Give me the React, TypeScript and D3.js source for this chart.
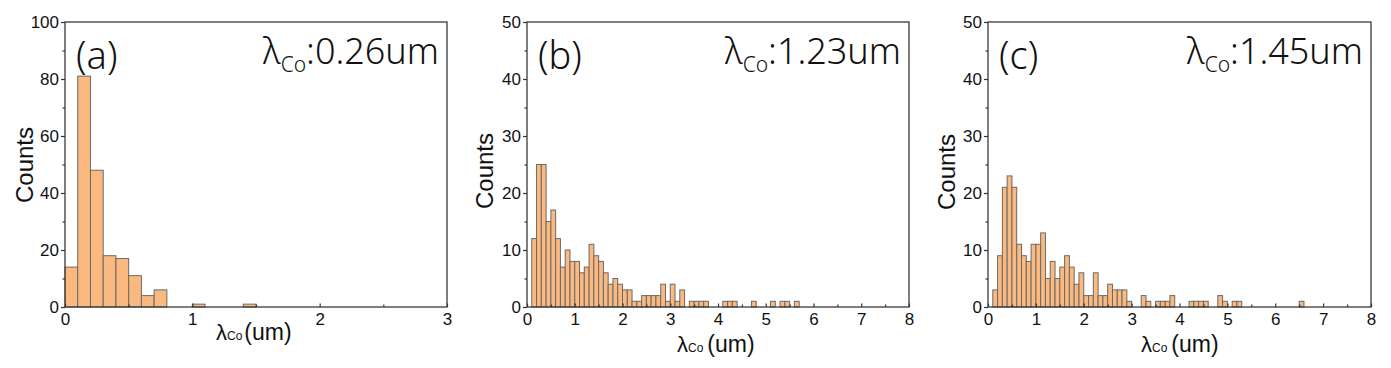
import React, { useEffect, useRef } from "react";
import * as d3 from "d3";

// histogram counts, bin width 0.1 um, first bin starts at 0
const binWidth = 0.1;
const countsA = [14, 81, 48, 18, 17, 11, 4, 6, 0, 0, 1, 0, 0, 0, 1];
const countsB = [
  0, 12, 25, 25, 15, 17, 12, 7, 10, 8, 8, 6, 7, 11, 9, 8, 6, 4, 5, 4, 3, 3, 1, 1,
  2, 2, 2, 2, 4, 1, 4, 1, 3, 0, 1, 1, 1, 1, 0, 0, 0, 1, 1, 1, 0, 0, 0, 1, 0, 0, 0,
  1, 0, 1, 1, 0, 1,
];
const countsC = [
  0, 3, 9, 21, 23, 21, 11, 9, 8, 11, 11, 13, 5, 8, 5, 7, 9, 7, 4, 6, 2, 2, 6, 2, 2,
  4, 3, 3, 3, 1, 0, 0, 2, 1, 0, 1, 1, 1, 2, 0, 0, 0, 1, 1, 1, 1, 0, 0, 2, 1, 0, 1,
  1, 0, 0, 0, 0, 0, 0, 0, 0, 0, 0, 0, 0, 1,
];
const panelTags = ["(a)", "(b)", "(c)"];
const lambdaValues = ["0.26", "1.23", "1.45"];
const xMaxes = [3, 8, 8];
const yMaxes = [100, 50, 50];
const yMajorSteps = [20, 10, 10];

// layout of the three frames
const frames = [
  { left: 65, right: 447, yLabelX: 33, yLabelY: 165, xLabelX: 216, xLabelY: 340 },
  { left: 527, right: 909, yLabelX: 493, yLabelY: 171, xLabelX: 677, xLabelY: 352 },
  { left: 988, right: 1371, yLabelX: 955, yLabelY: 172, xLabelX: 1141, xLabelY: 352 },
];
const top = 22;
const bottom = 307;
const tagFont = "'Noto Sans', 'Open Sans', sans-serif";

const App = () => {
  const svgRef = useRef<SVGSVGElement>(null);

  useEffect(() => {
    const svg = d3.select(svgRef.current);
    svg.selectAll("*").remove();
    const allCounts = [countsA, countsB, countsC];

    allCounts.forEach((counts, k) => {
      const f = frames[k];
      const xMax = xMaxes[k];
      const yMax = yMaxes[k];
      const step = yMajorSteps[k];

      const x = d3.scaleLinear().domain([0, xMax]).range([f.left, f.right]);
      const y = d3.scaleLinear().domain([0, yMax]).range([bottom, top]);
      const g = svg.append("g");

      // bars
      const bins = counts
        .map((c, i) => ({ x0: i * binWidth, x1: (i + 1) * binWidth, c }))
        .filter((d) => d.c > 0);
      g.selectAll("rect.bar")
        .data(bins)
        .enter()
        .append("rect")
        .attr("class", "bar")
        .attr("x", (d) => x(d.x0))
        .attr("y", (d) => y(d.c))
        .attr("width", (d) => x(d.x1) - x(d.x0))
        .attr("height", (d) => y(0) - y(d.c))
        .attr("fill", "#FBB97F")
        .attr("stroke", "#6a6a6a")
        .attr("stroke-width", 1);

      // y axis, major + minor
      const yMajor = d3.range(0, yMax + 0.001, step);
      const yMinor = d3.range(step / 2, yMax, step);
      const yAx = g
        .append("g")
        .attr("transform", `translate(${f.left},0)`)
        .call(d3.axisLeft(y).tickValues(yMajor).tickSize(4).tickPadding(2).tickFormat(d3.format("d")));
      g.append("g")
        .attr("transform", `translate(${f.left},0)`)
        .call(d3.axisLeft(y).tickValues(yMinor).tickSize(2.5).tickFormat(() => ""));

      // x axis, ticks pointing inward
      const xMajor = d3.range(0, xMax + 0.001, 1);
      const xMinor = d3.range(0.5, xMax, 1);
      const xAx = g
        .append("g")
        .attr("transform", `translate(0,${bottom})`)
        .call(d3.axisBottom(x).tickValues(xMajor).tickSize(-3.5).tickPadding(6).tickFormat(d3.format("d")));
      g.append("g")
        .attr("transform", `translate(0,${bottom})`)
        .call(d3.axisBottom(x).tickValues(xMinor).tickSize(-2.5).tickFormat(() => ""));

      g.selectAll(".domain").remove();
      g.selectAll(".tick line").attr("stroke", "#333").attr("stroke-width", 1.2);
      [yAx, xAx].forEach((a) =>
        a
          .selectAll("text")
          .attr("font-family", "Liberation Sans, Arial, sans-serif")
          .attr("font-size", 17)
          .attr("fill", "#111")
      );

      // frame
      g.append("rect")
        .attr("x", f.left)
        .attr("y", top)
        .attr("width", f.right - f.left)
        .attr("height", bottom - top)
        .attr("fill", "none")
        .attr("stroke", "#3a3a3a")
        .attr("stroke-width", 1.3);

      // panel tag
      g.append("text")
        .attr("x", f.left + 11)
        .attr("y", 69)
        .attr("font-family", tagFont)
        .attr("font-weight", 300)
        .attr("font-size", 38)
        .attr("fill", "#111")
        .text(panelTags[k]);

      // mean value label
      const t = g
        .append("text")
        .attr("x", f.right - 8)
        .attr("y", 64)
        .attr("text-anchor", "end")
        .attr("font-family", tagFont)
        .attr("font-weight", 300)
        .attr("font-size", 36)
        .attr("fill", "#111");
      t.append("tspan").text("λ");
      t.append("tspan").attr("font-size", 21).attr("dy", 8).text("Co");
      t.append("tspan").attr("dy", -8).text(`:${lambdaValues[k]}um`);

      // y label
      g.append("text")
        .attr("transform", `translate(${f.yLabelX},${f.yLabelY}) rotate(-90)`)
        .attr("text-anchor", "middle")
        .attr("font-family", "Liberation Sans, Arial, sans-serif")
        .attr("font-size", 24)
        .attr("fill", "#111")
        .text("Counts");

      // x label
      const xl = g
        .append("text")
        .attr("x", f.xLabelX)
        .attr("y", f.xLabelY)
        .attr("font-family", "Liberation Sans, Arial, sans-serif")
        .attr("fill", "#111");
      xl.append("tspan").attr("font-size", 22).text("λ");
      xl.append("tspan").attr("font-size", 12).text("Co");
      xl.append("tspan").attr("font-size", 23).attr("dx", k === 0 ? 2 : 4).text("(um)");
    });

    return () => {
      svg.selectAll("*").remove();
    };
  }, []);

  return (
    <div style={{ position: "absolute", left: 0, top: 0 }}>
      <svg ref={svgRef} width={1391} height={368} style={{ display: "block" }} />
    </div>
  );
};

export default App;
